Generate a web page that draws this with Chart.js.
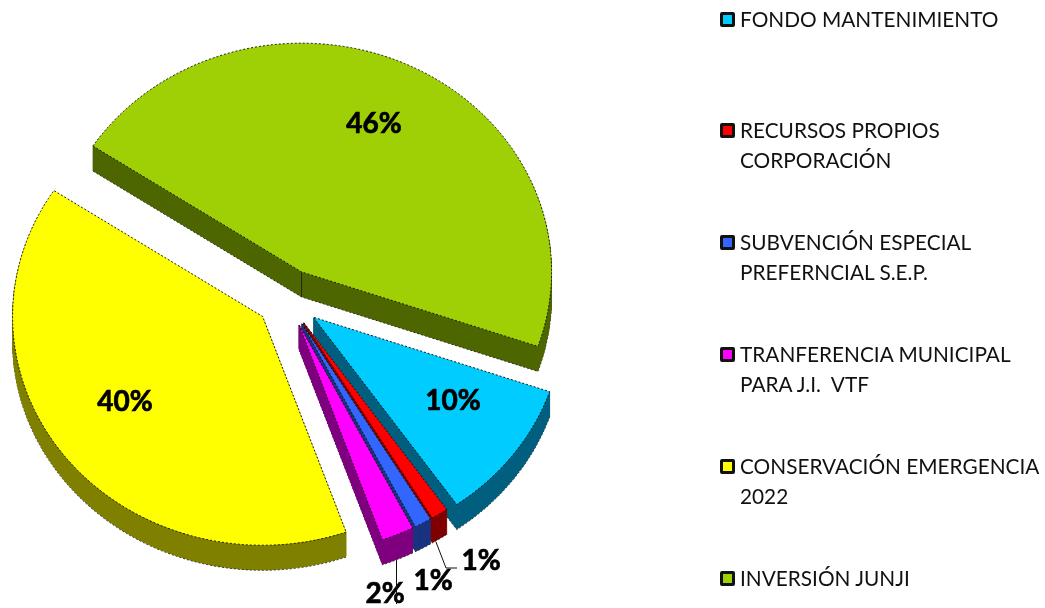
<!DOCTYPE html>
<html>
<head>
<meta charset="utf-8">
<script src="https://cdn.jsdelivr.net/npm/chart.js@4/dist/chart.umd.min.js"></script>
<style>
    html, body { margin: 0; padding: 0; background: #fff; width: 1045px; height: 608px; overflow: hidden; }
    #wrap { position: relative; width: 1045px; height: 608px; }
    #pie { position: absolute; left: 0; top: 0; }
    .key { position: absolute; left: 720px; width: 15px; height: 15px; box-sizing: border-box; border: 3px solid #111; border-radius: 2px; }
    .name { position: absolute; left: 740px; font: 20.8px/30px Lato, sans-serif; color: #111; white-space: pre; }
</style>
</head>
<body>
<div id="wrap"><canvas id="pie" width="1045" height="608"></canvas></div>
<script>
const categories = [
    'FONDO MANTENIMIENTO',
    'RECURSOS PROPIOS\nCORPORACIÓN',
    'SUBVENCIÓN ESPECIAL\nPREFERNCIAL S.E.P.',
    'TRANFERENCIA MUNICIPAL\nPARA J.I.  VTF',
    'CONSERVACIÓN EMERGENCIA\n2022',
    'INVERSIÓN JUNJI'
];
const shares = [10, 1.1, 1.1, 2.1, 39.7, 46.0];
const shareLabels = ['10%', '1%', '1%', '2%', '40%', '46%'];

const topColors = ['#00CCFF', '#FF0000', '#3366FF', '#FF00FF', '#FFFF00', '#9FCF05'];
const wallColors = ['#005F80', '#800000', '#1A3380', '#800080', '#808000', '#4D6600'];
const explode = [33, 30, 30, 30, 31, 33];

const squash = 0.915;
const depth = 25;
const pieCenterY = 299;

const labelSpots = [[453, 401], [481, 561], [433, 581], [385, 594], [125, 402], [374, 124]];
const legendTops = [4, 115, 227, 339, 451, 563];

const wrap = document.getElementById('wrap');
categories.forEach(function (name, i) {
    const key = document.createElement('div');
    key.className = 'key';
    key.style.top = (legendTops[i] + 8) + 'px';
    key.style.background = topColors[i];
    wrap.appendChild(key);

    const text = document.createElement('div');
    text.className = 'name';
    text.style.top = legendTops[i] + 'px';
    text.textContent = name;
    wrap.appendChild(text);
});

const pie3d = {
    id: 'pie3d',
    afterDatasetsUpdate(chart) {
        chart.getDatasetMeta(0).data.forEach(function (arc, i) {
            const mid = (arc.startAngle + arc.endAngle) / 2;
            arc.x += Math.cos(mid) * explode[i];
            arc.y += Math.sin(mid) * explode[i];
        });
    },
    beforeDatasetsDraw(chart) {
        const ctx = chart.ctx;
        const arcs = chart.getDatasetMeta(0).data;
        const middle = (chart.chartArea.top + chart.chartArea.bottom) / 2;

        ctx.save();
        ctx.translate(0, pieCenterY);
        ctx.scale(1, squash);
        ctx.translate(0, -middle);

        arcs.forEach(function (arc, i) {
            const own = arc.options;
            for (let d = depth; d > 0; d--) {
                arc.options = Object.assign({}, own, {
                    backgroundColor: wallColors[i],
                    borderColor: d == depth ? '#222' : wallColors[i],
                    borderWidth: 1,
                    borderDash: d == depth ? [2, 2] : []
                });
                ctx.save();
                ctx.translate(0, d / squash);
                arc.draw(ctx);
                ctx.restore();
            }
            arc.options = own;
        });

        // the fold in the wall under the tip of the big slice
        const big = arcs[arcs.length - 1];
        ctx.strokeStyle = '#222';
        ctx.lineWidth = 1;
        ctx.beginPath();
        ctx.moveTo(big.x, big.y);
        ctx.lineTo(big.x, big.y + depth / squash);
        ctx.stroke();
    },
    afterDatasetsDraw(chart) {
        const ctx = chart.ctx;
        ctx.restore();

        ctx.fillStyle = '#000';
        ctx.strokeStyle = '#000';
        ctx.lineWidth = 0.7;
        ctx.font = 'bold 28px Lato, sans-serif';
        ctx.textAlign = 'center';
        ctx.textBaseline = 'middle';
        shareLabels.forEach(function (label, i) {
            ctx.fillText(label, labelSpots[i][0], labelSpots[i][1]);
            ctx.strokeText(label, labelSpots[i][0], labelSpots[i][1]);
        });

        // leader lines of the small slices
        ctx.strokeStyle = '#111';
        ctx.lineWidth = 1;
        ctx.beginPath();
        ctx.moveTo(436, 542);
        ctx.lineTo(446, 568);
        ctx.lineTo(457, 568);
        ctx.moveTo(396.5, 560);
        ctx.lineTo(396.5, 604);
        ctx.stroke();
    }
};

new Chart(document.getElementById('pie'), {
    type: 'pie',
    data: {
        labels: categories,
        datasets: [{
            data: shares,
            backgroundColor: topColors,
            borderColor: '#111',
            borderWidth: 1,
            borderDash: [2, 2],
            clip: false
        }]
    },
    options: {
        responsive: false,
        animation: false,
        rotation: 109,
        radius: 250,
        layout: { padding: { left: 0, right: 471, top: 0, bottom: 0 } },
        plugins: { legend: { display: false }, tooltip: { enabled: false } },
        events: []
    },
    plugins: [pie3d]
});
</script>
</body>
</html>
